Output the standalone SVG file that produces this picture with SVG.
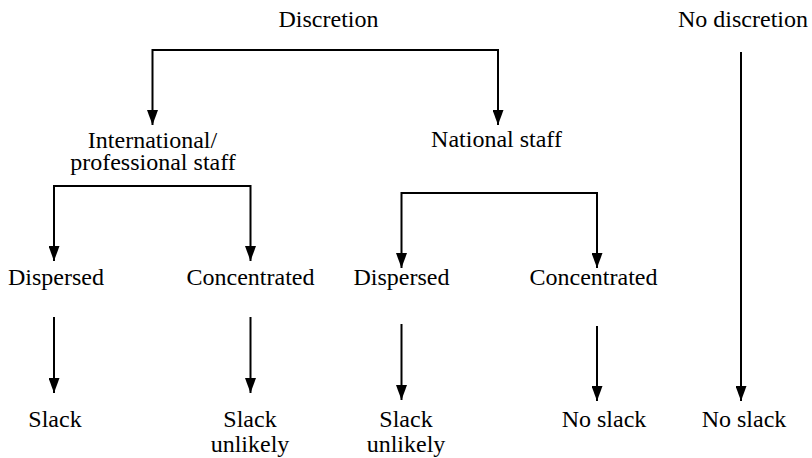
<svg xmlns="http://www.w3.org/2000/svg" width="812" height="458" viewBox="0 0 812 458">
<style>
text{font-family:"Liberation Serif","Times New Roman",serif;font-size:24px;fill:#000;text-anchor:middle}
.c{fill:none;stroke:#000;stroke-width:2;marker-end:url(#ah)}
</style>
<defs>
<marker id="ah" markerUnits="userSpaceOnUse" markerWidth="15" markerHeight="11" refX="15" refY="5.5" orient="auto">
<path d="M0,0 L15,5.5 L0,11 z" fill="#000"/>
</marker>
</defs>
<rect width="812" height="458" fill="#fff"/>
<g id="connectors">
<path class="c" d="M326 50 H152.5 V125"/>
<path class="c" d="M326 50 H498 V125"/>
<path class="c" d="M152 186 H54 V261"/>
<path class="c" d="M152 186 H250.5 V261"/>
<path class="c" d="M500 193 H401.5 V268"/>
<path class="c" d="M500 193 H597 V268"/>
<path class="c" d="M54 317 V393"/>
<path class="c" d="M250.5 317 V393"/>
<path class="c" d="M401.5 324 V400"/>
<path class="c" d="M597 326 V401"/>
<path class="c" d="M741 52 V401"/>
</g>
<g id="discretion"><text x="328.5" y="27">Discretion</text></g>
<g id="no-discretion"><text x="743" y="27">No discretion</text></g>
<g id="intl-staff"><text x="152.5" y="148">International/</text><text x="153" y="170">professional staff</text></g>
<g id="national-staff"><text x="496.5" y="147">National staff</text></g>
<g id="dispersed-1"><text x="56" y="285">Dispersed</text></g>
<g id="concentrated-1"><text x="250.5" y="285">Concentrated</text></g>
<g id="dispersed-2"><text x="401.5" y="285">Dispersed</text></g>
<g id="concentrated-2"><text x="593.5" y="285">Concentrated</text></g>
<g id="slack"><text x="55" y="427">Slack</text></g>
<g id="slack-unlikely-1"><text x="250" y="427">Slack</text><text x="250" y="452">unlikely</text></g>
<g id="slack-unlikely-2"><text x="406" y="427">Slack</text><text x="406" y="452">unlikely</text></g>
<g id="no-slack-1"><text x="604" y="427">No slack</text></g>
<g id="no-slack-2"><text x="744" y="427">No slack</text></g>
</svg>
